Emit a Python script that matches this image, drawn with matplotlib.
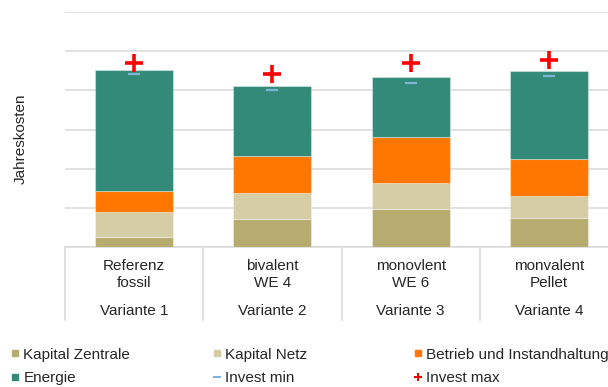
import matplotlib
matplotlib.use("Agg")
import matplotlib.pyplot as plt
from matplotlib.lines import Line2D
import numpy as np

plt.rcParams['font.family'] = ['Liberation Sans', 'DejaVu Sans']

# Data
categories = ["Referenz\nfossil", "bivalent\nWE 4", "monovlent\nWE 6", "monvalent\nPellet"]
variants = ["Variante 1", "Variante 2", "Variante 3", "Variante 4"]

kapital_zentrale = [0.25, 0.72, 0.98, 0.74]
kapital_netz = [0.64, 0.66, 0.66, 0.56]
betrieb = [0.55, 0.95, 1.17, 0.94]
energie = [3.08, 1.79, 1.54, 2.26]
invest_min = [4.42, 4.00, 4.19, 4.36]
invest_max = [4.70, 4.42, 4.69, 4.77]

series = [
    ("Kapital Zentrale", kapital_zentrale, "#B7AC6F"),
    ("Kapital Netz", kapital_netz, "#D5CDA6"),
    ("Betrieb und Instandhaltung", betrieb, "#FF7700"),
    ("Energie", energie, "#338A78"),
]
c_min = "#7FB4D4"
c_max = "#FF0000"
text_color = "#262626"
grid_color = "#D9D9D9"
fs = 11

W, H = 608, 387
fig = plt.figure(figsize=(W / 100, H / 100), dpi=100)
ax_l, ax_r, ax_t, ax_b = 65, 608, 12, 247
ax = fig.add_axes([ax_l / W, 1 - ax_b / H, (ax_r - ax_l) / W, (ax_b - ax_t) / H])

x = np.arange(len(categories))
pitch = 138.3
ax.set_xlim(-0.5, (ax_r - ax_l) / pitch - 0.5)
ax.set_ylim(0, 6)

bottom = np.zeros(len(x))
for name, vals, col in series:
    ax.bar(x, vals, width=0.564, bottom=bottom, color=col,
           edgecolor=(1, 1, 1, 0.35), linewidth=0.8, zorder=3, label=name)
    bottom += np.array(vals)

ax.plot(x, invest_min, linestyle="none", marker="_", markersize=8.5,
        markeredgewidth=1.6, color=c_min, zorder=4)
ax.plot(x, invest_max, linestyle="none", marker="+", markersize=13,
        markeredgewidth=2.6, color=c_max, zorder=5)

# Grid
ax.set_yticks(np.arange(0, 7, 1))
ax.yaxis.grid(True, color=grid_color, linewidth=1.1, zorder=0)
ax.tick_params(axis="both", length=0, labelleft=False, labelbottom=False)
for s in ["top", "right", "left"]:
    ax.spines[s].set_visible(False)
ax.spines["bottom"].set_color(grid_color)
ax.spines["bottom"].set_linewidth(1.1)
ax.set_xticks(x)

# Two-level category axis
tr = ax.get_xaxis_transform()
axh = ax_b - ax_t
def ay(py):
    return (ax_b - py) / axh

for i, (cat, var) in enumerate(zip(categories, variants)):
    l1, l2 = cat.split("\n")
    ax.text(i, ay(266), l1, transform=tr, ha="center", va="center",
            fontsize=fs, color=text_color)
    ax.text(i, ay(283), l2, transform=tr, ha="center", va="center",
            fontsize=fs, color=text_color)
    ax.text(i, ay(311), var, transform=tr, ha="center", va="center",
            fontsize=fs, color=text_color)

for xs in np.arange(-0.5, len(categories), 1.0):
    ax.add_line(Line2D([xs, xs], [0, ay(320)], transform=tr, color=grid_color,
                       linewidth=1.1, clip_on=False))

fig.text(21 / W, 1 - 139 / H, "Jahreskosten", rotation=90, ha="center",
         va="center", fontsize=fs, color=text_color)

# Legend in three columns
def sq(col):
    return Line2D([], [], linestyle="none", marker="s", markersize=4.6,
                  color=col)

h_kz = sq(series[0][2])
h_kn = sq(series[1][2])
h_bi = sq(series[2][2])
h_en = sq(series[3][2])
h_min = Line2D([], [], linestyle="none", marker="_", markersize=5.5,
               markeredgewidth=1.5, color=c_min)
h_max = Line2D([], [], linestyle="none", marker="P", markersize=6,
               markeredgewidth=0, color=c_max)

cols = [
    ([h_kz, h_en], ["Kapital Zentrale", "Energie"], 10.5),
    ([h_kn, h_min], ["Kapital Netz", "Invest min"], 212.5),
    ([h_bi, h_max], ["Betrieb und Instandhaltung", "Invest max"], 413.5),
]
for hs, ls, px in cols:
    fig.legend(hs, ls, loc="center left", bbox_to_anchor=(px / W, 1 - 366.5 / H),
               frameon=False, fontsize=fs, handlelength=0.6, handletextpad=0.25,
               borderpad=0, borderaxespad=0, labelspacing=0.62,
               labelcolor=text_color)

fig.savefig("out.png", dpi=100)
